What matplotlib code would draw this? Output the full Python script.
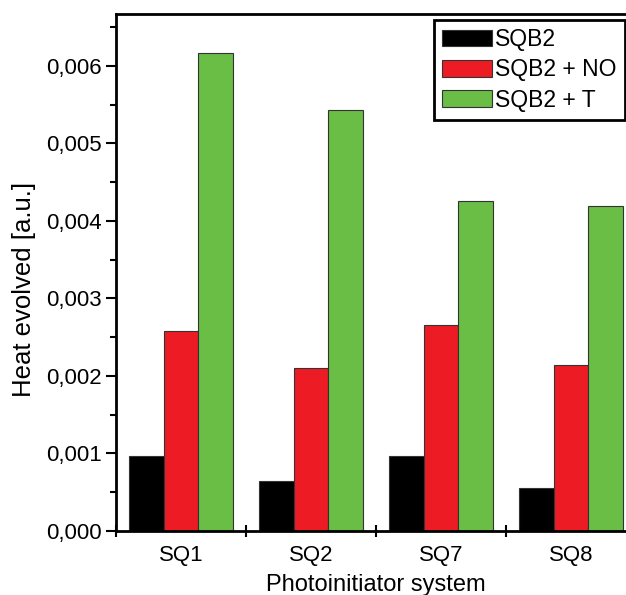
import numpy as np
import matplotlib
matplotlib.use('Agg')
from matplotlib import pyplot as plt
from matplotlib.ticker import FuncFormatter, MultipleLocator

plt.rcParams['font.family'] = ['Liberation Sans', 'DejaVu Sans']

# data
systems = ['SQ1', 'SQ2', 'SQ7', 'SQ8']
sqb2 = [0.00097, 0.00065, 0.00097, 0.00056]
sqb2_no = [0.00258, 0.00210, 0.00266, 0.00214]
sqb2_t = [0.00617, 0.00543, 0.00426, 0.00419]
series_names = ['SQB2', 'SQB2 + NO', 'SQB2 + T']
colors = ['#000000', '#ED1C24', '#6ABD45']

fig = plt.figure(figsize=(6.26, 5.95), dpi=100)
# right spine sits just outside the picture, as in the original crop
ax = fig.add_axes([116 / 626, 1 - 531 / 595, 520 / 626, 517 / 595])

x = np.arange(1, len(systems) + 1)
w = 0.8 / 3
for i, (vals, name, c) in enumerate(zip([sqb2, sqb2_no, sqb2_t], series_names, colors)):
    ax.bar(x + (i - 1) * w, vals, width=w, color=c, edgecolor='#333333',
           linewidth=0.8, label=name)

ax.set_xlim(0.5, 4.5)
ax.set_ylim(0, 0.00667)

# group boundaries get the tick marks, the names sit in between
ax.set_xticks(np.arange(0.5, 4.5, 1.0))
ax.set_xticklabels([])
ax.set_xticks(x, minor=True)
ax.set_xticklabels(systems, minor=True)
ax.tick_params(axis='x', which='major', direction='inout', length=8, width=1.5)
ax.tick_params(axis='x', which='minor', length=0, pad=10, labelsize=16)

ax.yaxis.set_major_locator(MultipleLocator(0.001))
ax.yaxis.set_minor_locator(MultipleLocator(0.0005))
ax.yaxis.set_major_formatter(FuncFormatter(lambda v, p: f'{v:.3f}'.replace('.', ',')))
ax.tick_params(axis='y', which='major', direction='out', length=7, width=1.5, labelsize=16, pad=3)
ax.tick_params(axis='y', which='minor', direction='out', length=4, width=1.5)

for s in ax.spines.values():
    s.set_linewidth(2)

ax.set_ylabel('Heat evolved [a.u.]', fontsize=18.5)
ax.yaxis.set_label_coords(-0.154, 0.468)
ax.set_xlabel('Photoinitiator system', fontsize=17)
ax.xaxis.set_label_coords(0.5, -0.084)

leg = ax.legend(loc='upper right', bbox_to_anchor=(625 / 626, 1 - 20 / 595),
                bbox_transform=fig.transFigure, fontsize=16.5, frameon=True,
                fancybox=False, edgecolor='black', framealpha=1,
                handlelength=2.2, handleheight=0.75, handletextpad=0.15,
                labelspacing=0.32, borderpad=0.35, borderaxespad=0)
leg.get_frame().set_linewidth(2)

plt.savefig('out.png', dpi=100)
